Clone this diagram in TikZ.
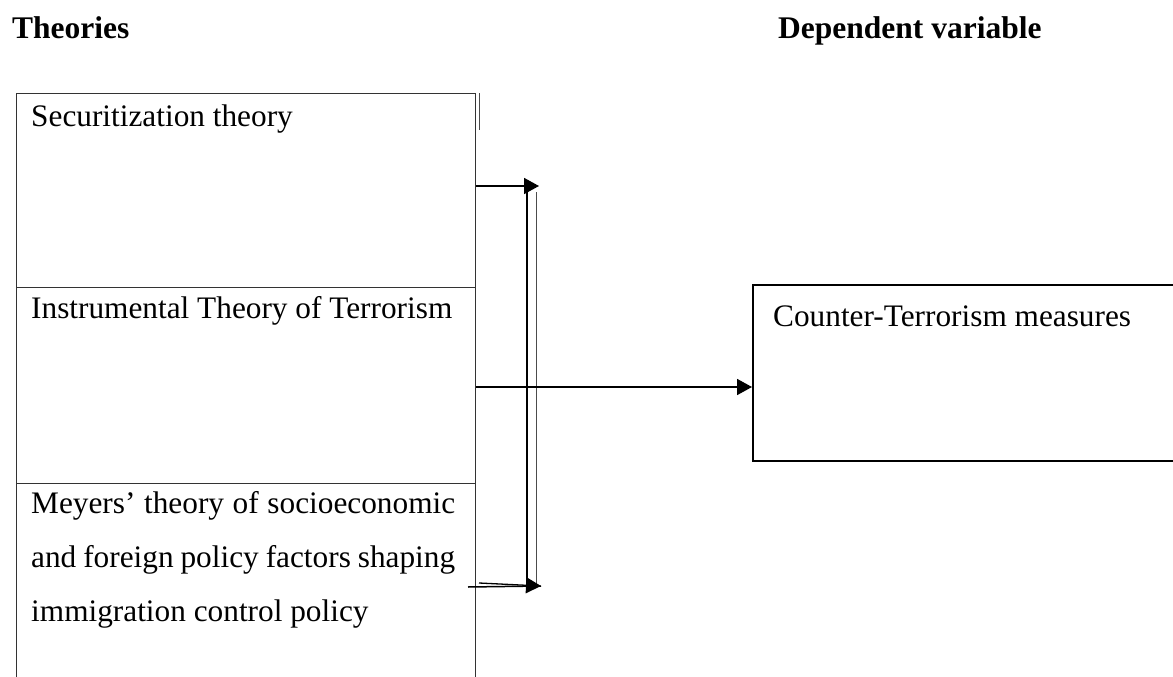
\documentclass[tikz,border=0pt]{standalone}
\usepackage{fontspec}
\setmainfont{Liberation Serif}
\usetikzlibrary{arrows.meta,calc}
\begin{document}
\begin{tikzpicture}[x=1pt,y=-1pt,
  cell/.style={draw=black!80,line width=1.3pt,rectangle,inner sep=0pt,anchor=north west},
  body/.style={font=\fontsize{31.3}{55}\selectfont,anchor=base west,inner sep=0pt},
  title/.style={font=\fontsize{31.5}{36}\selectfont\bfseries,anchor=base west,inner sep=0pt},
  conn/.style={line width=1.8pt,black},
  arr/.style={conn,-{Triangle[length=15pt,width=16pt]}},
]
\useasboundingbox (0,0) rectangle (1173,677);
\fill[white] (0,0) rectangle (1173,677);
% titles
\node[title] (t1) at (12,39) {Theories};
\node[title] (t2) at (778,39) {Dependent variable};
% left cells
\node[cell,minimum width=459pt,minimum height=194pt] (c1) at (16,93) {};
\node[cell,minimum width=459pt,minimum height=196pt] (c2) at (16,287) {};
\node[cell,minimum width=459pt,minimum height=220pt] (c3) at (16,483) {};
\draw[black!70,line width=1pt] (c1.north east) ++(3.5,0) coordinate (tk1) -- ++(0,37) coordinate (tk2);
% texts
\node[body] (s1) at (31,126) {Securitization theory};
\node[body] (s2) at (31,318) {Instrumental Theory of Terrorism};
\node[body] (s3) at (31,513) {\makebox[424pt][s]{Meyers’ theory of socioeconomic}};
\node[body] (s4) at (31,567) {\makebox[424pt][s]{and foreign policy factors shaping}};
\node[body] (s5) at (31,621) {immigration control policy};
% right box
\node[draw=black,line width=1.6pt,rectangle,inner sep=0pt,anchor=north west,minimum width=440pt,minimum height=176pt] (box) at (752,284) {};
\node[body] (cm) at (773,326) {Counter-Terrorism measures};
% connectors
\coordinate (a1s) at (c1.east |- 0,186);
\coordinate (a1e) at (539,186);
\draw[arr] (a1s) -- (a1e);
\coordinate (vt) at (527,186);
\coordinate (vb) at (527,586);
\draw[conn,line width=2pt] (vt) -- (vb);
\coordinate (wt) at (536.5,192);
\coordinate (wb) at (536.5,586);
\draw[black!70,line width=1pt] (wt) -- (wb);
\coordinate (a2s) at (c2.east |- 0,387);
\coordinate (a2e) at (box.west |- 0,387);
\draw[arr] (a2s) -- (a2e);
\coordinate (a3s) at (468,587);
\coordinate (a3e) at (541,586);
\draw[conn,line width=1.5pt] (a3s) -- (a3e);
\coordinate (a3t) at (479,583);
\draw[arr,line width=1.3pt] (a3t) -- (a3e);
\end{tikzpicture}
\end{document}
